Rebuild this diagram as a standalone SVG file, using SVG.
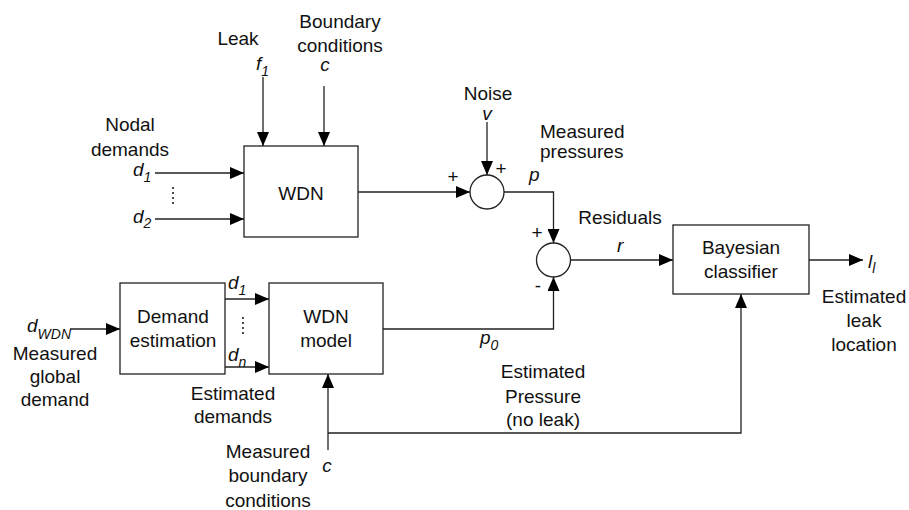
<svg xmlns="http://www.w3.org/2000/svg" width="909" height="510" viewBox="0 0 909 510">
<defs>
<marker id="arr" markerUnits="userSpaceOnUse" markerWidth="14" markerHeight="12" refX="14" refY="6" orient="auto">
<path d="M0,0 L14,6 L0,12 z" fill="#000"/>
</marker>
<style>
text{font-family:"Liberation Sans",Arial,sans-serif;font-size:19px;fill:#111}
.m{text-anchor:middle}
.i{font-style:italic}
.s{font-size:14px}
.box{fill:#fff;stroke:#222;stroke-width:1.3}
.ln{fill:none;stroke:#222;stroke-width:1.3}
.a{marker-end:url(#arr)}
.dots{stroke:#222;stroke-width:1.6;stroke-dasharray:2,3}
</style>
</defs>
<rect width="909" height="510" fill="#fff"/>
<g id="connectors">
<path class="ln a" d="M263,77 V146"/>
<path class="ln a" d="M324,86 V146"/>
<path class="ln a" d="M155,173 H244"/>
<path class="ln a" d="M155,219 H244"/>
<path class="ln a" d="M358,192 H470"/>
<path class="ln a" d="M487,122 V175"/>
<path class="ln a" d="M504,192 H553.5 V243"/>
<path class="ln a" d="M570.5,260 H673"/>
<path class="ln a" d="M809,260 H863"/>
<path class="ln a" d="M70,329 H120"/>
<path class="ln a" d="M225,299 H269"/>
<path class="ln a" d="M225,367 H269"/>
<path class="ln a" d="M383,329 H553.5 V277"/>
<path class="ln a" d="M328,450 V374"/>
<path class="ln a" d="M328,433 H741 V294"/>
<line class="dots" x1="173" y1="187" x2="173" y2="206"/>
<line class="dots" x1="243" y1="317" x2="243" y2="337"/>
</g>
<g id="wdn">
<rect class="box" x="244" y="146" width="114" height="91"/>
<text class="m" x="301" y="200">WDN</text>
</g>
<g id="sum1">
<circle class="box" cx="487" cy="192" r="17"/>
</g>
<g id="sum2">
<circle class="box" cx="553.5" cy="260" r="17"/>
</g>
<g id="bayes">
<rect class="box" x="673" y="225" width="136" height="69"/>
<text class="m" x="741" y="254">Bayesian</text>
<text class="m" x="741" y="278">classifier</text>
</g>
<g id="demand">
<rect class="box" x="120" y="283" width="105" height="91"/>
<text class="m" x="173" y="323">Demand</text>
<text class="m" x="173" y="347">estimation</text>
</g>
<g id="wdnmodel">
<rect class="box" x="269" y="283" width="114" height="91"/>
<text class="m" x="326" y="323">WDN</text>
<text class="m" x="326" y="347">model</text>
</g>
<g id="labels">
<text class="m" x="238" y="45">Leak</text>
<text class="m" x="340" y="28">Boundary</text>
<text class="m" x="340" y="52">conditions</text>
<text class="i" x="256" y="70">f<tspan class="s" dy="6">1</tspan></text>
<text class="m i" x="325" y="71">c</text>
<text class="m" x="130" y="131">Nodal</text>
<text class="m" x="130" y="156">demands</text>
<text class="i" x="133" y="176">d<tspan class="s" dy="6">1</tspan></text>
<text class="i" x="133" y="223">d<tspan class="s" dy="5">2</tspan></text>
<text class="m" x="488" y="100">Noise</text>
<text class="m i" x="487" y="120">v</text>
<text class="m" x="453" y="183">+</text>
<text class="m" x="501" y="175">+</text>
<text class="i" x="529" y="181">p</text>
<text x="540" y="138">Measured</text>
<text x="540" y="158">pressures</text>
<text class="m" x="537" y="239">+</text>
<text class="m" x="538" y="292">-</text>
<text class="m" x="620" y="224">Residuals</text>
<text class="i" x="617" y="252">r</text>
<text class="i" x="868" y="268">l<tspan class="s" dy="5">l</tspan></text>
<text class="m" x="864" y="303">Estimated</text>
<text class="m" x="864" y="327">leak</text>
<text class="m" x="864" y="351">location</text>
<text class="i" x="27" y="332">d<tspan class="s" dy="7">WDN</tspan></text>
<text class="m" x="55" y="360">Measured</text>
<text class="m" x="55" y="383">global</text>
<text class="m" x="55" y="406">demand</text>
<text class="i" x="228" y="289">d<tspan class="s" dy="6">1</tspan></text>
<text class="i" x="228" y="361">d<tspan class="s" dy="6">n</tspan></text>
<text class="m" x="233" y="400">Estimated</text>
<text class="m" x="233" y="423">demands</text>
<text class="m" x="268" y="458">Measured</text>
<text class="m" x="268" y="482">boundary</text>
<text class="m" x="268" y="507">conditions</text>
<text class="m i" x="327" y="472">c</text>
<text class="i" x="480" y="344">p<tspan class="s" dy="6">0</tspan></text>
<text class="m" x="543" y="378">Estimated</text>
<text class="m" x="543" y="403">Pressure</text>
<text class="m" x="543" y="426">(no leak)</text>
</g>
</svg>
